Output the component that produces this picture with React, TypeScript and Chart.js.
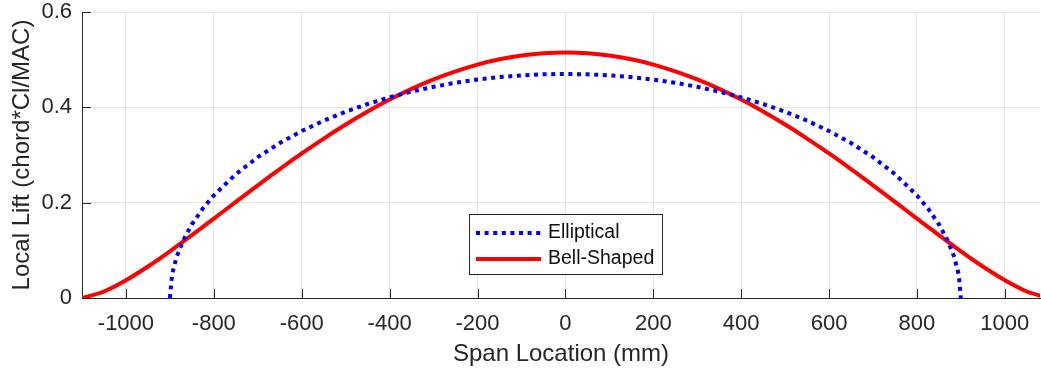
import React, { useEffect, useRef } from "react";
import { Chart, registerables } from "chart.js";

Chart.register(...registerables);

const ellipseX = [-900, -895, -885, -870, -850, -825, -800, -750, -700, -650, -600, -550, -500, -450, -400, -350, -300, -250, -200, -150, -100, -50, 0,
  50, 100, 150, 200, 250, 300, 350, 400, 450, 500, 550, 600, 650, 700, 750, 800, 825, 850, 870, 885, 895, 900];
const ellipseY = [0, 0.0495, 0.0855, 0.1203, 0.1545, 0.1878, 0.2153, 0.2598, 0.2954, 0.3251, 0.3503, 0.372, 0.3908, 0.407, 0.421, 0.433, 0.4431, 0.4515, 0.4582, 0.4634, 0.4671, 0.4693, 0.47,
  0.4693, 0.4671, 0.4634, 0.4582, 0.4515, 0.4431, 0.433, 0.421, 0.407, 0.3908, 0.372, 0.3503, 0.3251, 0.2954, 0.2598, 0.2153, 0.1878, 0.1545, 0.1203, 0.0855, 0.0495, 0];

const bellX = [-1100, -1050, -1000, -950, -900, -850, -800, -750, -700, -650, -600, -550, -500, -450, -400, -350, -300, -250, -200, -150, -100, -50, 0,
  50, 100, 150, 200, 250, 300, 350, 400, 450, 500, 550, 600, 650, 700, 750, 800, 850, 900, 950, 1000, 1050, 1100];
const bellY = [0, 0.0136, 0.0372, 0.066, 0.0979, 0.1317, 0.1665, 0.2016, 0.2364, 0.2704, 0.3032, 0.3345, 0.3639, 0.3913, 0.4163, 0.4388, 0.4586, 0.4756, 0.4897, 0.5007, 0.5086, 0.5134, 0.515,
  0.5134, 0.5086, 0.5007, 0.4897, 0.4756, 0.4586, 0.4388, 0.4163, 0.3913, 0.3639, 0.3345, 0.3032, 0.2704, 0.2364, 0.2016, 0.1665, 0.1317, 0.0979, 0.066, 0.0372, 0.0136, 0];

const seriesLabels = ["Elliptical", "Bell-Shaped"];
const xTickValues = [-1000, -800, -600, -400, -200, 0, 200, 400, 600, 800, 1000];
const yTickValues = [0, 0.2, 0.4, 0.6];
const xTitle = "Span Location (mm)";
const yTitle = "Local Lift (chord*Cl/MAC)";

const FONT = "'Liberation Sans', Arial, Helvetica, sans-serif";
const AXIS = "#262626";

const innerTicks = {
  id: "innerTicks",
  afterDraw(chart: any) {
    const { ctx, chartArea } = chart;
    const xs = chart.scales.x;
    const ys = chart.scales.y;
    ctx.save();
    ctx.strokeStyle = AXIS;
    ctx.lineWidth = 1;
    ctx.beginPath();
    xTickValues.forEach((v) => {
      const px = Math.round(xs.getPixelForValue(v)) + 0.5;
      ctx.moveTo(px, chartArea.bottom);
      ctx.lineTo(px, chartArea.bottom - 9);
    });
    yTickValues.forEach((v) => {
      const py = Math.round(ys.getPixelForValue(v)) + 0.5;
      ctx.moveTo(chartArea.left, py);
      ctx.lineTo(chartArea.left + 9, py);
    });
    ctx.stroke();

    // legend
    const bx = 469.5, by = 214.5, bw = 193, bh = 60;
    ctx.fillStyle = "#ffffff";
    ctx.fillRect(bx, by, bw, bh);
    ctx.strokeStyle = AXIS;
    ctx.lineWidth = 1;
    ctx.strokeRect(bx, by, bw, bh);
    const ds = chart.data.datasets;
    const rows = [233, 259];
    ds.forEach((d: any, i: number) => {
      ctx.save();
      ctx.strokeStyle = d.borderColor;
      ctx.lineWidth = d.borderWidth;
      ctx.setLineDash(d.borderDash || []);
      ctx.lineCap = "butt";
      ctx.beginPath();
      ctx.moveTo(476, rows[i]);
      ctx.lineTo(541, rows[i]);
      ctx.stroke();
      ctx.restore();
      ctx.fillStyle = "#111111";
      ctx.font = `19.5px ${FONT}`;
      ctx.textBaseline = "middle";
      ctx.textAlign = "left";
      ctx.fillText(d.label, 548, rows[i]);
    });
    ctx.restore();
  },
};

export default function App() {
  const ref = useRef<HTMLCanvasElement | null>(null);
  useEffect(() => {
    if (!ref.current) return;
    const chart = new Chart(ref.current, {
      type: "line",
      data: {
        datasets: [
          {
            label: seriesLabels[0],
            data: ellipseX.map((x, i) => ({ x, y: ellipseY[i] })),
            borderColor: "#0000ff",
            borderWidth: 4,
            borderDash: [4, 4.6],
            pointRadius: 0,
            tension: 0,
            fill: false,
          },
          {
            label: seriesLabels[1],
            data: bellX.map((x, i) => ({ x, y: bellY[i] })),
            borderColor: "#ff0000",
            borderWidth: 4,
            pointRadius: 0,
            tension: 0.3,
            fill: false,
          },
        ],
      },
      options: {
        animation: false,
        responsive: true,
        maintainAspectRatio: false,
        layout: { padding: { top: 12, right: 1, left: 0, bottom: 0 } },
        plugins: { legend: { display: false }, tooltip: { enabled: false } },
        scales: {
          x: {
            type: "linear",
            min: -1100,
            max: 1080,
            afterFit: (s: any) => { s.height = 74; s.paddingLeft = 0; s.paddingRight = 0; },
            afterBuildTicks: (s: any) => { s.ticks = xTickValues.map((v) => ({ value: v })); },
            ticks: {
              autoSkip: false,
              maxRotation: 0,
              padding: 13,
              color: AXIS,
              font: { size: 22, family: FONT },
              callback: (v: any) => String(v),
            },
            grid: { color: "#e3e3e3", drawTicks: false, lineWidth: 1 },
            border: { display: true, color: AXIS, width: 1 },
            title: {
              display: true,
              text: xTitle,
              color: AXIS,
              font: { size: 24, family: FONT },
              padding: { top: 0, bottom: 3 },
            },
          },
          y: {
            type: "linear",
            min: 0,
            max: 0.6,
            afterFit: (s: any) => { s.width = 82; s.paddingTop = 0; s.paddingBottom = 0; },
            afterBuildTicks: (s: any) => { s.ticks = yTickValues.map((v) => ({ value: v })); },
            ticks: {
              padding: 10,
              color: AXIS,
              font: { size: 22, family: FONT },
              callback: (v: any) => (v === 0 ? "0" : Number(v).toFixed(1)),
            },
            grid: { color: "#e3e3e3", drawTicks: false, lineWidth: 1 },
            border: { display: true, color: AXIS, width: 1 },
            title: {
              display: true,
              text: yTitle,
              color: AXIS,
              font: { size: 24, family: FONT },
              padding: { top: 8, bottom: 0 },
            },
          },
        },
      },
      plugins: [innerTicks],
    });
    return () => chart.destroy();
  }, []);
  return (
    <div style={{ position: "fixed", left: 0, top: 0, width: 1041, height: 372, background: "#fff" }}>
      <canvas ref={ref} />
    </div>
  );
}
